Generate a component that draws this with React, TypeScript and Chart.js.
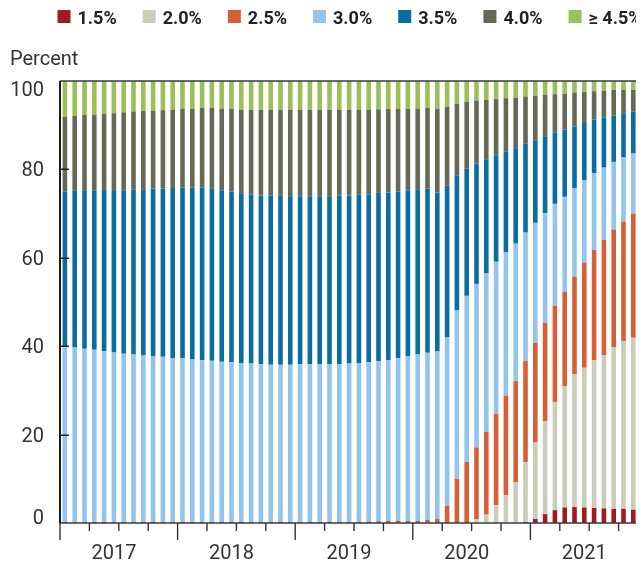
import { useEffect, useRef } from "react";
import { Chart, registerables } from "chart.js";

Chart.register(...registerables);

const years = ["2017", "2018", "2019", "2020", "2021"];
const monthNames = ["Jan", "Feb", "Mar", "Apr", "May", "Jun", "Jul", "Aug", "Sep", "Oct", "Nov", "Dec"];
const categories = years.flatMap((y) => monthNames.map((m) => `${m} ${y}`));

const seriesLabels = ["1.5%", "2.0%", "2.5%", "3.0%", "3.5%", "4.0%", "≥ 4.5%"];
const seriesColors = ["#9E1B1E", "#CACDBA", "#D65F37", "#93C5EB", "#0B6CA0", "#676957", "#9DBF59"];
const yTicks = [0, 20, 40, 60, 80, 100];
const yAxisTitle = "Percent";

const rate15 = [
  0, 0, 0, 0, 0, 0, 0, 0, 0, 0, 0, 0,
  0, 0, 0, 0, 0, 0, 0, 0, 0, 0, 0, 0,
  0, 0, 0, 0, 0, 0, 0, 0, 0, 0, 0, 0,
  0, 0, 0, 0, 0, 0, 0, 0, 0, 0, 0, 0.2,
  0.9, 2.0, 2.9, 3.5, 3.6, 3.5, 3.4, 3.3, 3.2, 3.2, 3.0, 2.9,
];
const rate20 = [
  0, 0, 0, 0, 0, 0, 0, 0, 0, 0, 0, 0,
  0, 0, 0, 0, 0, 0, 0, 0, 0, 0, 0, 0,
  0, 0, 0, 0, 0, 0, 0, 0, 0, 0, 0, 0,
  0, 0, 0, 0, 0, 0, 0.9, 1.9, 4.0, 6.3, 9.2, 13.6,
  17.3, 21.0, 24.5, 27.4, 30.0, 31.6, 33.4, 34.7, 36.6, 37.9, 38.9, 39.9,
];
const rate25 = [
  0.2, 0.2, 0.2, 0.2, 0.2, 0.2, 0.2, 0.2, 0.2, 0.2, 0.2, 0.2,
  0.2, 0.2, 0.2, 0.2, 0.2, 0.2, 0.2, 0.2, 0.2, 0.2, 0.2, 0.2,
  0.2, 0.2, 0.2, 0.2, 0.2, 0.2, 0.3, 0.3, 0.4, 0.5, 0.5, 0.5,
  0.5, 0.7, 0.9, 3.9, 10.0, 13.8, 16.2, 18.7, 20.7, 22.5, 22.9, 22.9,
  22.6, 22.3, 21.8, 21.4, 22.1, 23.8, 25.0, 26.1, 26.6, 27.1, 28.1, 28.8,
];
const rate30 = [
  39.7, 39.5, 39.2, 39.0, 38.7, 38.4, 38.1, 37.9, 37.7, 37.6, 37.4, 37.1,
  37.1, 36.8, 36.6, 36.5, 36.3, 36.2, 36.0, 35.9, 35.7, 35.6, 35.6, 35.6,
  35.7, 35.7, 35.8, 35.8, 35.8, 35.9, 35.9, 36.1, 36.2, 36.4, 36.8, 37.3,
  37.6, 37.8, 37.9, 38.2, 38.1, 37.6, 37.0, 35.9, 34.4, 32.5, 31.1, 29.0,
  27.1, 24.8, 23.0, 21.5, 20.0, 18.6, 17.3, 16.3, 15.3, 14.5, 13.6, 12.8,
];
const rate35 = [
  35.1, 35.5, 35.9, 36.1, 36.2, 36.5, 36.9, 37.3, 37.6, 37.9, 38.1, 38.5,
  38.6, 38.9, 39.1, 38.9, 38.8, 38.6, 38.4, 38.2, 38.2, 38.3, 38.2, 38.1,
  38.0, 38.0, 37.9, 37.9, 38.1, 38.0, 38.1, 38.0, 38.1, 37.9, 37.7, 37.5,
  37.4, 37.2, 36.0, 34.2, 30.6, 28.8, 27.2, 25.8, 24.1, 22.8, 21.6, 20.1,
  18.7, 17.4, 16.2, 15.2, 14.0, 13.0, 12.2, 11.4, 10.5, 10.0, 9.5, 8.9,
];
const rate40 = [
  16.9, 16.9, 17.0, 17.1, 17.5, 17.6, 17.7, 17.7, 17.7, 17.6, 17.7, 17.7,
  17.8, 17.8, 18.0, 18.3, 18.4, 18.7, 18.9, 19.2, 19.4, 19.4, 19.5, 19.6,
  19.6, 19.6, 19.6, 19.6, 19.4, 19.4, 19.2, 19.1, 18.9, 18.9, 18.7, 18.4,
  18.2, 18.2, 18.9, 17.9, 16.2, 15.1, 14.3, 13.4, 12.7, 12.0, 11.4, 10.7,
  10.1, 9.4, 8.6, 8.1, 7.7, 7.0, 6.4, 6.0, 5.8, 5.3, 4.9, 5.0,
];
const rate45 = [
  8.1, 7.9, 7.7, 7.6, 7.4, 7.3, 7.1, 6.9, 6.8, 6.7, 6.6, 6.5,
  6.3, 6.3, 6.1, 6.1, 6.3, 6.3, 6.5, 6.5, 6.5, 6.5, 6.5, 6.5,
  6.5, 6.5, 6.5, 6.5, 6.5, 6.5, 6.5, 6.5, 6.4, 6.3, 6.3, 6.3,
  6.3, 6.1, 6.3, 5.8, 5.1, 4.7, 4.4, 4.3, 4.1, 3.9, 3.8, 3.5,
  3.3, 3.1, 3.0, 2.9, 2.6, 2.5, 2.3, 2.2, 2.0, 2.0, 2.0, 1.7,
];

const seriesValues = [rate15, rate20, rate25, rate30, rate35, rate40, rate45];

const TEXT = "#333333";
const FONT = "Roboto, 'Noto Sans', sans-serif";

const axesPlugin = {
  id: "customAxes",
  afterDatasetsDraw(chart: any) {
    const { ctx, chartArea: a, scales } = chart;
    const xs = scales.x;
    const ys = scales.y;
    const step = xs.getPixelForValue(1) - xs.getPixelForValue(0);
    const n = categories.length;
    const boundary = (i: number) =>
      i < n ? xs.getPixelForValue(i) - step / 2 : xs.getPixelForValue(n - 1) + step / 2;

    ctx.save();
    ctx.strokeStyle = "#3a3a3a";
    // top frame line
    ctx.lineWidth = 1.5;
    ctx.beginPath();
    ctx.moveTo(a.left, a.top);
    ctx.lineTo(a.right, a.top);
    ctx.stroke();
    // bottom axis
    ctx.beginPath();
    ctx.moveTo(a.left, a.bottom);
    ctx.lineTo(a.right, a.bottom);
    ctx.stroke();
    // right axis
    ctx.beginPath();
    ctx.moveTo(a.right, a.top);
    ctx.lineTo(a.right, a.bottom);
    ctx.stroke();
    // left axis
    ctx.strokeStyle = "#1a1a1a";
    ctx.lineWidth = 2;
    ctx.beginPath();
    ctx.moveTo(a.left, a.top);
    ctx.lineTo(a.left, a.bottom);
    ctx.stroke();

    // y ticks inward
    ctx.strokeStyle = "#222";
    ctx.lineWidth = 1.5;
    yTicks.forEach((v) => {
      if (v === 0 || v === 100) return;
      const py = Math.round(ys.getPixelForValue(v)) + 0.25;
      ctx.beginPath();
      ctx.moveTo(a.left, py);
      ctx.lineTo(a.left + 9, py);
      ctx.moveTo(a.right, py);
      ctx.lineTo(a.right - 9, py);
      ctx.stroke();
    });

    // x ticks
    ctx.strokeStyle = "#333";
    ctx.lineWidth = 1.4;
    for (let i = 0; i <= n; i += 3) {
      const px = boundary(i);
      const len = i % 12 === 0 ? 17 : 8;
      ctx.beginPath();
      ctx.moveTo(px, a.bottom);
      ctx.lineTo(px, a.bottom + len);
      ctx.stroke();
    }
    ctx.restore();
  },
  afterDraw(chart: any) {
    const { ctx, chartArea: a, scales } = chart;
    const xs = scales.x;
    const ys = scales.y;
    ctx.save();
    ctx.fillStyle = TEXT;
    ctx.font = `20px ${FONT}`;
    ctx.textBaseline = "alphabetic";

    // y labels
    ctx.textAlign = "right";
    yTicks.forEach((v) => {
      const py = ys.getPixelForValue(v);
      let base = py + 7;
      if (v === 100) base = a.top + 14.7;
      if (v === 0) base = a.bottom + 1;
      ctx.fillText(String(v), a.left - 16, base);
    });

    // year labels
    ctx.textAlign = "center";
    years.forEach((yr, k) => {
      const px = xs.getPixelForValue(12 * k + 5);
      ctx.fillText(yr, px, a.bottom + 36.3);
    });

    // axis title
    ctx.textAlign = "left";
    ctx.font = `20px ${FONT}`;
    ctx.fillText(yAxisTitle, 2, 57);

    // legend
    ctx.font = `bold 18px ${FONT}`;
    let lx = 49.5;
    chart.data.datasets.forEach((ds: any) => {
      ctx.fillStyle = ds.backgroundColor;
      ctx.fillRect(lx, 2, 13, 13);
      ctx.fillStyle = "#222";
      ctx.fillText(ds.label, lx + 20, 15.5);
      const w = ctx.measureText(ds.label).width;
      lx += 13 + 7 + w + 26;
    });
    ctx.restore();
  },
};

export default function App() {
  const ref = useRef<HTMLCanvasElement | null>(null);

  useEffect(() => {
    document.documentElement.style.overflow = "hidden";
    document.body.style.overflow = "hidden";
    if (!ref.current) return;
    const chart = new Chart(ref.current, {
      type: "bar",
      data: {
        labels: categories,
        datasets: seriesLabels.map((label, i) => ({
          label,
          data: seriesValues[i],
          backgroundColor: seriesColors[i],
          borderWidth: 0,
          barPercentage: 0.47,
          categoryPercentage: 1,
        })),
      },
      options: {
        animation: false,
        responsive: false,
        devicePixelRatio: 1,
        layout: { padding: { left: 52, top: 73, right: 51, bottom: 41 } },
        plugins: {
          legend: { display: false },
          tooltip: { enabled: false },
        },
        scales: {
          x: { stacked: true, display: false, offset: true },
          y: { stacked: true, display: false, min: 0, max: 100 },
        },
      },
      plugins: [axesPlugin],
    });
    return () => chart.destroy();
  }, []);

  return (
    <div style={{ width: 636, height: 556, overflow: "hidden" }}>
      <canvas ref={ref} width={691} height={556} style={{ display: "block" }} />
    </div>
  );
}
